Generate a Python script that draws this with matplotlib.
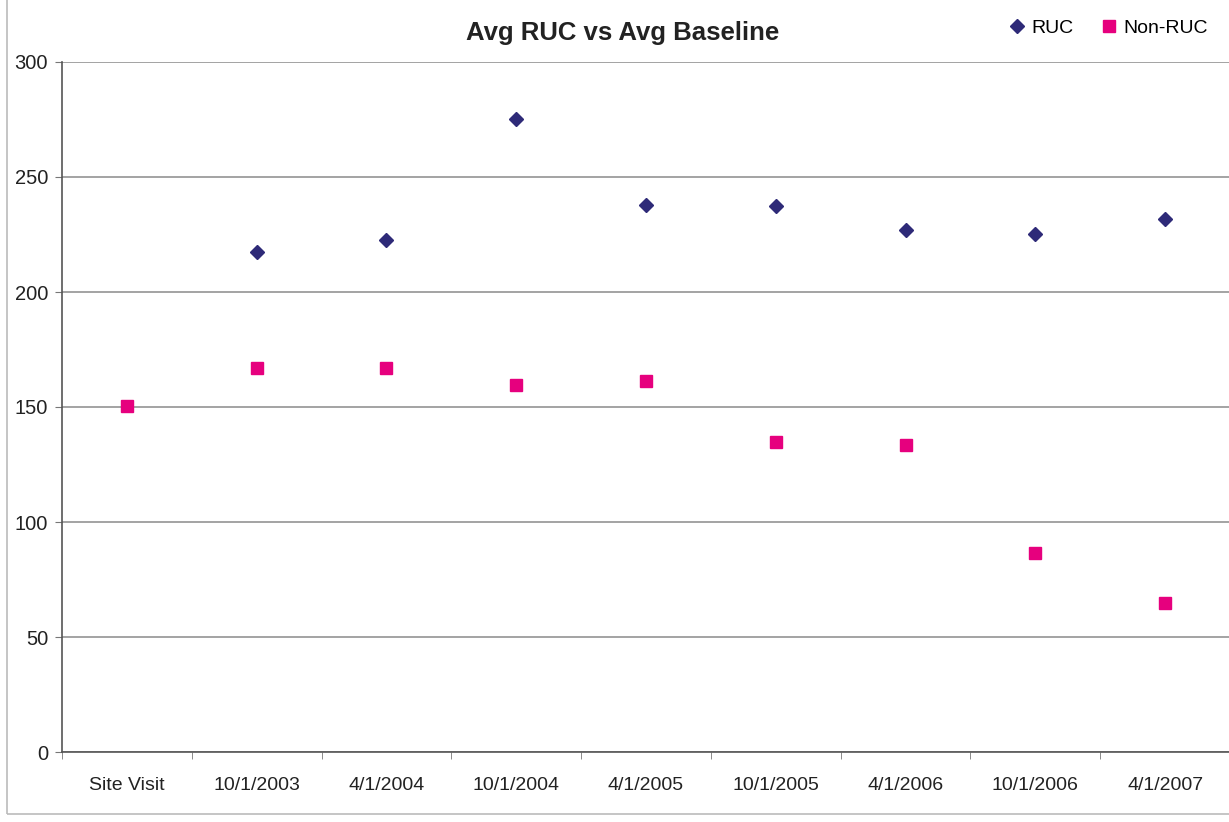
import numpy as np
import matplotlib.pyplot as plt
from matplotlib.patches import Rectangle

plt.rcParams['font.family'] = ['Liberation Sans', 'DejaVu Sans']

categories = ['Site Visit', '10/1/2003', '4/1/2004', '10/1/2004', '4/1/2005',
              '10/1/2005', '4/1/2006', '10/1/2006', '4/1/2007']
ruc = [np.nan, 217.4, 222.6, 275.2, 237.8, 237.4, 227.0, 225.2, 231.7]
non_ruc = [150.4, 167.0, 167.0, 159.6, 161.3, 134.8, 133.5, 86.5, 64.8]
yticks = [0, 50, 100, 150, 200, 250, 300]

fig = plt.figure(figsize=(12.29, 8.22), dpi=100)
ax = fig.add_axes([62 / 1229, 70 / 822, 1168 / 1229, 690 / 822])

x = np.arange(len(categories))
ax.plot(x, ruc, linestyle='none', marker='D', markersize=7.5,
        color='#2e2a78', label='RUC', zorder=3)
ax.plot(x, non_ruc, linestyle='none', marker='s', markersize=8,
        color='#e6007e', label='Non-RUC', zorder=3)

ax.set_xlim(-0.5, len(categories) - 0.5)
ax.set_ylim(0, 300)
ax.set_yticks(yticks)
ax.set_yticklabels([str(v) for v in yticks], fontsize=14.5, color='#222222')
ax.yaxis.grid(True, color='#8a8a8a', linewidth=1.1)
ax.set_axisbelow(True)

# category labels centred, tick marks on the boundaries
ax.set_xticks(x)
ax.set_xticklabels(categories, fontsize=14, color='#222222')
ax.tick_params(axis='x', which='major', length=0, pad=18)
ax.set_xticks(np.arange(len(categories)) - 0.5, minor=True)
ax.tick_params(axis='x', which='minor', length=5, color='#777777')
ax.tick_params(axis='y', length=5, color='#777777', pad=5)

for side in ('top', 'right'):
    ax.spines[side].set_visible(False)
for side in ('left', 'bottom'):
    ax.spines[side].set_color('#555555')
    ax.spines[side].set_linewidth(1.2)

fig.text(0.507, 0.960, 'Avg RUC vs Avg Baseline', ha='center', va='center',
         fontsize=18.5, fontweight='bold', color='#222222')

fig.legend(loc='upper right', bbox_to_anchor=(0.997, 0.998), ncol=2,
           frameon=False, fontsize=14, handlelength=0.8, handletextpad=0.35,
           columnspacing=1.4, markerscale=1.0)

# outer chart frame
fig.patches.append(Rectangle((7 / 1229, 8 / 822), 1.0, 1.0,
                             transform=fig.transFigure, fill=False,
                             edgecolor='#bbbbbb', linewidth=1.2))

fig.savefig('out.png', dpi=100)
